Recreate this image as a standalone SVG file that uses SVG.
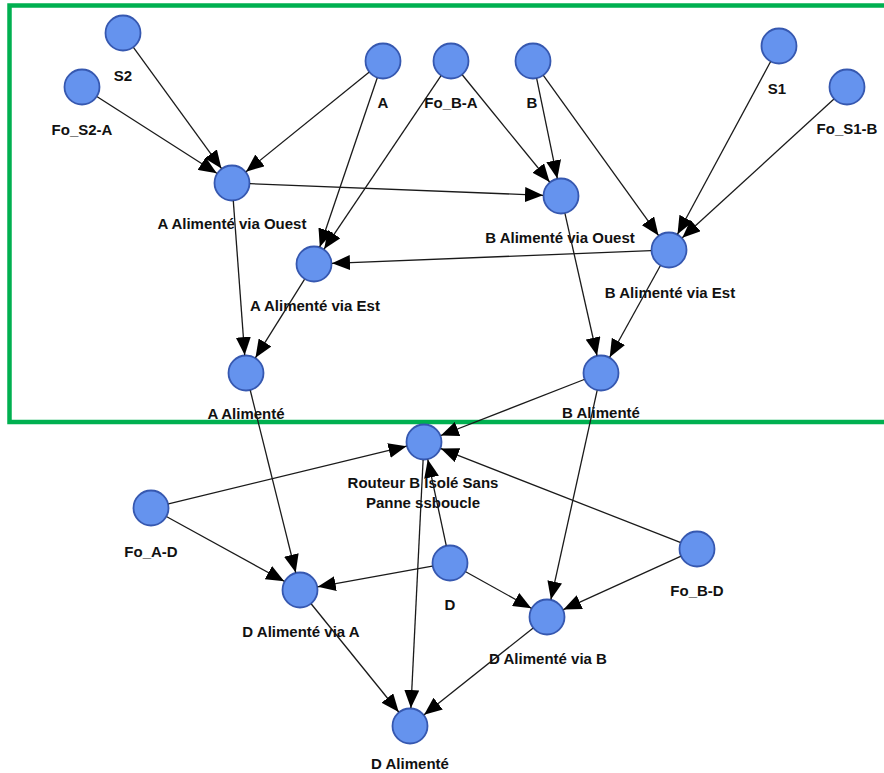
<svg xmlns="http://www.w3.org/2000/svg" width="884" height="773" viewBox="0 0 884 773">
<style>
.n circle{fill:#6593ee;stroke:#3658b0;stroke-width:1.8}
.n text{font-family:"Liberation Sans",Arial,sans-serif;font-weight:bold;font-size:15px;fill:#111;text-anchor:middle}
.e line{stroke:#1a1a1a;stroke-width:1.3;marker-end:url(#ah)}
</style>
<defs>
<marker id="ah" viewBox="0 0 18 15" markerWidth="18" markerHeight="15" refX="18" refY="7.5" orient="auto" markerUnits="userSpaceOnUse">
<path d="M0,0 L18,7.5 L0,15 z" fill="#000"/>
</marker>
</defs>
<rect width="884" height="773" fill="#fff"/>
<rect x="9.5" y="5.5" width="885" height="416.5" fill="none" stroke="#00b050" stroke-width="4.5"/>
<g id="nodes">
<g id="S2" class="n"><circle cx="123" cy="33" r="17.5"/><text x="123" y="81">S2</text></g>
<g id="Fo_S2-A" class="n"><circle cx="82" cy="87" r="17.5"/><text x="82" y="135">Fo_S2-A</text></g>
<g id="A" class="n"><circle cx="383" cy="61" r="17.5"/><text x="383" y="108">A</text></g>
<g id="Fo_B-A" class="n"><circle cx="451" cy="61" r="17.5"/><text x="451" y="108">Fo_B-A</text></g>
<g id="B" class="n"><circle cx="533" cy="61" r="17.5"/><text x="532" y="108">B</text></g>
<g id="S1" class="n"><circle cx="779" cy="46" r="17.5"/><text x="777" y="94">S1</text></g>
<g id="Fo_S1-B" class="n"><circle cx="847" cy="87" r="17.5"/><text x="847" y="134">Fo_S1-B</text></g>
<g id="AvO" class="n"><circle cx="232" cy="183" r="17.5"/><text x="232" y="229">A Alimenté via Ouest</text></g>
<g id="AvE" class="n"><circle cx="314" cy="264" r="17.5"/><text x="315" y="311">A Alimenté via Est</text></g>
<g id="AA" class="n"><circle cx="246" cy="373" r="17.5"/><text x="246" y="419">A Alimenté</text></g>
<g id="BvO" class="n"><circle cx="561" cy="196" r="17.5"/><text x="560" y="243">B Alimenté via Ouest</text></g>
<g id="BvE" class="n"><circle cx="669" cy="250" r="17.5"/><text x="670" y="298">B Alimenté via Est</text></g>
<g id="BA" class="n"><circle cx="601" cy="373" r="17.5"/><text x="601" y="418">B Alimenté</text></g>
<g id="R" class="n"><circle cx="424" cy="442" r="17.5"/><text x="423" y="488">Routeur B Isolé Sans</text><text x="423" y="508">Panne ssboucle</text></g>
<g id="Fo_A-D" class="n"><circle cx="151" cy="508" r="17.5"/><text x="151" y="557">Fo_A-D</text></g>
<g id="D" class="n"><circle cx="450" cy="563" r="17.5"/><text x="450" y="610">D</text></g>
<g id="DvA" class="n"><circle cx="300" cy="590" r="17.5"/><text x="301" y="637">D Alimenté via A</text></g>
<g id="Fo_B-D" class="n"><circle cx="697" cy="549" r="17.5"/><text x="697" y="596">Fo_B-D</text></g>
<g id="DvB" class="n"><circle cx="547" cy="617" r="17.5"/><text x="548" y="664">D Alimenté via B</text></g>
<g id="DA" class="n"><circle cx="410" cy="726" r="17.5"/><text x="410" y="769">D Alimenté</text></g>
</g>
<g id="connectors" class="e">
<line x1="133.6" y1="47.6" x2="221.4" y2="168.4"/>
<line x1="97.2" y1="96.7" x2="216.8" y2="173.3"/>
<line x1="369.0" y1="72.3" x2="246.0" y2="171.7"/>
<line x1="377.2" y1="78.0" x2="319.8" y2="247.0"/>
<line x1="440.9" y1="75.9" x2="324.1" y2="249.1"/>
<line x1="462.4" y1="75.0" x2="549.6" y2="182.0"/>
<line x1="536.7" y1="78.6" x2="557.3" y2="178.4"/>
<line x1="543.5" y1="75.6" x2="658.5" y2="235.4"/>
<line x1="770.5" y1="61.8" x2="677.5" y2="234.2"/>
<line x1="833.7" y1="99.2" x2="682.3" y2="237.8"/>
<line x1="250.0" y1="183.7" x2="543.0" y2="195.3"/>
<line x1="651.0" y1="250.7" x2="332.0" y2="263.3"/>
<line x1="233.3" y1="200.9" x2="244.7" y2="355.1"/>
<line x1="304.5" y1="279.3" x2="255.5" y2="357.7"/>
<line x1="565.0" y1="213.6" x2="597.0" y2="355.5"/>
<line x1="660.3" y1="265.8" x2="609.7" y2="357.2"/>
<line x1="584.2" y1="379.5" x2="440.8" y2="435.5"/>
<line x1="250.3" y1="390.5" x2="295.7" y2="572.5"/>
<line x1="597.1" y1="390.6" x2="550.9" y2="599.4"/>
<line x1="168.5" y1="503.8" x2="406.5" y2="446.2"/>
<line x1="166.8" y1="516.7" x2="284.2" y2="581.3"/>
<line x1="446.2" y1="545.4" x2="427.8" y2="459.6"/>
<line x1="432.3" y1="566.2" x2="317.7" y2="586.8"/>
<line x1="465.7" y1="571.8" x2="531.3" y2="608.2"/>
<line x1="680.2" y1="542.4" x2="440.8" y2="448.6"/>
<line x1="680.6" y1="556.4" x2="563.4" y2="609.6"/>
<line x1="311.3" y1="604.0" x2="398.7" y2="712.0"/>
<line x1="532.9" y1="628.2" x2="424.1" y2="714.8"/>
<line x1="423.1" y1="460.0" x2="410.9" y2="708.0"/>
</g>
</svg>
